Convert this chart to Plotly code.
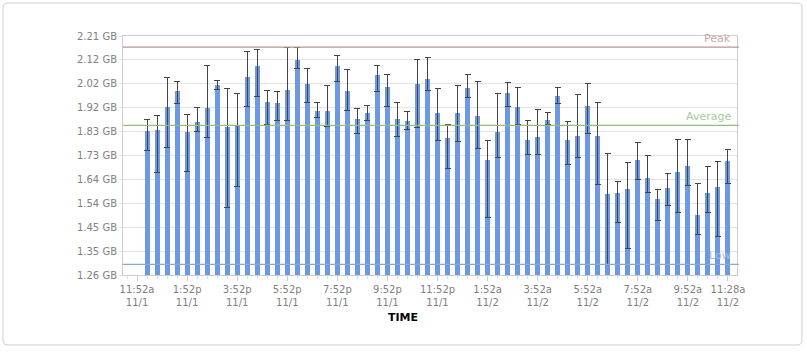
import pandas as pd
import plotly.graph_objects as go

# ---- data (GB) ----
first_bar = "2012-11-01 12:16"
interval_min = 24
values = [1.832, 1.836, 1.928, 1.991, 1.828, 1.868, 1.924, 2.015, 1.848, 1.855,
          2.047, 2.091, 1.948, 1.944, 1.995, 2.115, 2.019, 1.912, 1.912, 2.091,
          1.991, 1.880, 1.904, 2.055, 2.007, 1.880, 1.872, 2.019, 2.039, 1.904,
          1.805, 1.904, 2.003, 1.892, 1.717, 1.828, 1.983, 1.928, 1.797, 1.810,
          1.876, 1.971, 1.797, 1.813, 1.932, 1.813, 1.582, 1.586, 1.602, 1.717,
          1.646, 1.562, 1.606, 1.669, 1.693, 1.498, 1.586, 1.610, 1.713]
err_high = [1.879, 1.895, 2.046, 2.030, 1.899, 1.926, 2.093, 2.034, 2.002, 1.982,
            2.149, 2.157, 1.994, 1.990, 2.164, 2.164, 2.081, 1.945, 2.014, 2.133,
            2.078, 1.922, 1.934, 2.093, 2.058, 1.946, 1.911, 2.117, 2.125, 2.002,
            1.859, 2.014, 2.058, 2.030, 1.795, 1.982, 2.026, 2.006, 1.875, 1.918,
            1.907, 2.006, 1.871, 1.978, 2.022, 1.946, 1.744, 1.632, 1.708, 1.787,
            1.736, 1.600, 1.664, 1.798, 1.798, 1.624, 1.692, 1.712, 1.760]
err_low = [1.756, 1.668, 1.767, 1.941, 1.671, 1.830, 1.807, 1.998, 1.528, 1.611,
           1.929, 1.969, 1.859, 1.875, 1.873, 2.081, 1.946, 1.887, 1.852, 2.030,
           1.915, 1.823, 1.875, 1.991, 1.930, 1.811, 1.839, 1.848, 1.994, 1.795,
           1.684, 1.791, 1.965, 1.763, 1.489, 1.728, 1.930, 1.859, 1.740, 1.740,
           1.860, 1.941, 1.700, 1.728, 1.823, 1.620, 1.302, 1.469, 1.366, 1.640,
           1.589, 1.477, 1.536, 1.509, 1.616, 1.422, 1.509, 1.414, 1.624]
peak = 2.166
average = 1.855
low = 1.302

y_tick_vals = [1.26, 1.355, 1.45, 1.545, 1.64, 1.735, 1.83, 1.925, 2.02, 2.115, 2.21]
y_tick_text = ["1.26 GB", "1.35 GB", "1.45 GB", "1.54 GB", "1.64 GB", "1.73 GB",
               "1.83 GB", "1.92 GB", "2.02 GB", "2.12 GB", "2.21 GB"]
x_tick_vals = ["2012-11-01 11:52", "2012-11-01 13:52", "2012-11-01 15:52", "2012-11-01 17:52",
               "2012-11-01 19:52", "2012-11-01 21:52", "2012-11-01 23:52", "2012-11-02 01:52",
               "2012-11-02 03:52", "2012-11-02 05:52", "2012-11-02 07:52", "2012-11-02 09:52",
               "2012-11-02 11:28"]
x_tick_text = ["11:52a<br>11/1", "1:52p<br>11/1", "3:52p<br>11/1", "5:52p<br>11/1",
               "7:52p<br>11/1", "9:52p<br>11/1", "11:52p<br>11/1", "1:52a<br>11/2",
               "3:52a<br>11/2", "5:52a<br>11/2", "7:52a<br>11/2", "9:52a<br>11/2",
               "11:28a<br>11/2"]
x_range = ["2012-11-01 11:18:24", "2012-11-02 11:49:36"]

times = pd.date_range(first_bar, periods=len(values), freq=f"{interval_min}min")
plus = [h - v for h, v in zip(err_high, values)]
minus = [v - l for v, l in zip(values, err_low)]

fig = go.Figure()
fig.add_trace(go.Bar(
    x=times, y=values, width=interval_min * 60000 * 0.5,
    marker=dict(color="#6d98e3", line=dict(width=0)),
    error_y=dict(type="data", array=plus, arrayminus=minus, symmetric=False,
                 color="#444444", thickness=1, width=3),
    hoverinfo="x+y",
))

fig.update_layout(
    width=807, height=352,
    margin=dict(l=123, r=70, t=36, b=77),
    paper_bgcolor="white", plot_bgcolor="white",
    showlegend=False, bargap=0,
    font=dict(family="DejaVu Sans", size=10, color="#808080"),
    xaxis=dict(
        type="date", range=x_range,
        tickmode="array", tickvals=x_tick_vals, ticktext=x_tick_text,
        ticks="outside", ticklen=5, tickcolor="#cccccc",
        showgrid=False, showline=True, linecolor="#cccccc", mirror=True,
        zeroline=False,
        minor=dict(tickmode="linear", tick0="2012-11-01 11:52", dtick=interval_min * 60000,
                   ticks="outside", ticklen=3, tickcolor="#dddddd", showgrid=False),
        tickfont=dict(size=10, color="#808080"),
    ),
    yaxis=dict(
        range=[1.26, 2.21], tickmode="array", tickvals=y_tick_vals, ticktext=y_tick_text,
        showgrid=True, gridcolor="#e3e3e3", gridwidth=1,
        ticks="outside", ticklen=3, tickcolor="#e3e3e3",
        showline=True, linecolor="#cccccc", mirror=True, zeroline=False,
        tickfont=dict(size=10, color="#808080"),
    ),
)

# reference lines
for val, lcol, name, tcol in [(peak, "#b99393", "Peak", "#c9a9a9"),
                              (average, "#93bd7a", "Average", "#a9c998"),
                              (low, "#86abc9", "Low", "#a9bfd0")]:
    fig.add_shape(type="line", xref="paper", x0=0, x1=1.003, yref="y", y0=val, y1=val,
                  line=dict(color=lcol, width=1.2), layer="above")
    fig.add_annotation(xref="paper", x=1, xanchor="right", xshift=-4,
                       yref="y", y=val, yanchor="bottom", yshift=0,
                       text=name, showarrow=False,
                       font=dict(size=11, color=tcol, family="DejaVu Sans"))

# axis title
fig.add_annotation(xref="paper", x=0.456, yref="paper", y=-0.176, text="<b>TIME</b>",
                   showarrow=False, xanchor="center", yanchor="middle",
                   font=dict(size=11, color="#000000", family="DejaVu Sans"))

# outer rounded border
pw, ph = 614.0, 239.0
def px(xp):
    return (xp - 123) / pw
def py(yp):
    return (275 - yp) / ph
r = 5
x0, x1, y0, y1 = 3, 802, 3, 345
path = (f"M {px(x0 + r)} {py(y0)} L {px(x1 - r)} {py(y0)} "
        f"Q {px(x1)} {py(y0)} {px(x1)} {py(y0 + r)} "
        f"L {px(x1)} {py(y1 - r)} Q {px(x1)} {py(y1)} {px(x1 - r)} {py(y1)} "
        f"L {px(x0 + r)} {py(y1)} Q {px(x0)} {py(y1)} {px(x0)} {py(y1 - r)} "
        f"L {px(x0)} {py(y0 + r)} Q {px(x0)} {py(y0)} {px(x0 + r)} {py(y0)} Z")
fig.add_shape(type="path", xref="paper", yref="paper", path=path,
              line=dict(color="#cfcfcf", width=1), layer="below")

fig.write_html("out.html")
